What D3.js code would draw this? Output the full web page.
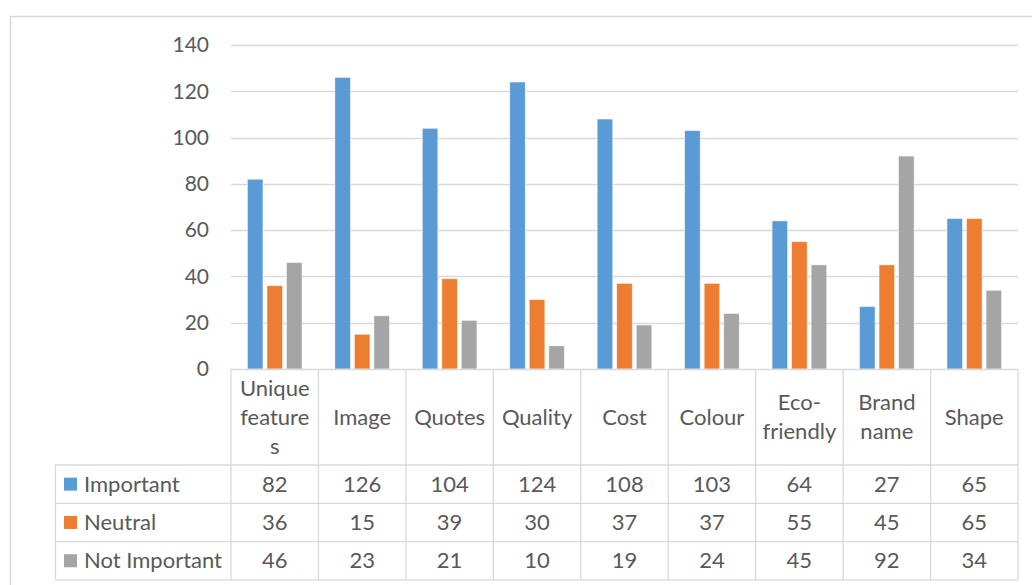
<!DOCTYPE html>
<html>
<head>
<meta charset="utf-8">
<script src="https://cdn.jsdelivr.net/npm/d3@7"></script>
<style>
  html, body { margin: 0; padding: 0; background: #fff; overflow: hidden; }
  text { font-family: "Lato", "Liberation Sans", sans-serif; fill: #595959; }
</style>
</head>
<body>
<div id="chart"></div>
<script>
// data
var categories = ["Unique features", "Image", "Quotes", "Quality", "Cost", "Colour", "Eco-friendly", "Brand name", "Shape"];
var categoryLines = [["Unique", "feature", "s"], ["Image"], ["Quotes"], ["Quality"], ["Cost"], ["Colour"], ["Eco-", "friendly"], ["Brand", "name"], ["Shape"]];
var seriesNames = ["Important", "Neutral", "Not Important"];
var important = [82, 126, 104, 124, 108, 103, 64, 27, 65];
var neutral = [36, 15, 39, 30, 37, 37, 55, 45, 65];
var notImportant = [46, 23, 21, 10, 19, 24, 45, 92, 34];
var yTicks = [0, 20, 40, 60, 80, 100, 120, 140];
var colors = ["#5b9bd5", "#ed7d31", "#a5a5a5"];

var series = [important, neutral, notImportant];

var W = 1032, H = 585;
var plotLeft = 231, plotRight = 1018, plotTop = 45, plotBottom = 369;
var headerBottom = 465, rowH = 38.3, tableLeft = 55.5;
var gridColor = "#d9d9d9";
var fontSize = "22px";

var svg = d3.select("#chart").append("svg")
    .attr("width", W)
    .attr("height", H);

// outer chart border
svg.append("rect")
    .attr("x", 10.5).attr("y", 16.5)
    .attr("width", 1100).attr("height", 700)
    .attr("fill", "none")
    .attr("stroke", gridColor)
    .attr("stroke-width", 1.5);

var x = d3.scaleBand()
    .domain(categories)
    .range([plotLeft, plotRight])
    .padding(0);

var xInner = d3.scaleBand()
    .domain(seriesNames)
    .range([0, x.bandwidth()])
    .paddingInner(0.205)
    .paddingOuter(0.84);

var y = d3.scaleLinear()
    .domain([0, 140])
    .range([plotBottom, plotTop]);

// gridlines
svg.append("g")
    .selectAll("line")
    .data(yTicks.slice(1))
    .enter().append("line")
    .attr("x1", plotLeft).attr("x2", plotRight)
    .attr("y1", function(d) { return Math.round(y(d)) + 0.5; })
    .attr("y2", function(d) { return Math.round(y(d)) + 0.5; })
    .attr("stroke", gridColor)
    .attr("stroke-width", 1.3);

// y axis labels
var yAxis = svg.append("g")
    .attr("transform", "translate(" + (plotLeft - 12) + ",0)")
    .call(d3.axisLeft(y).tickValues(yTicks).tickSize(0).tickPadding(10));
yAxis.select(".domain").remove();
yAxis.selectAll("text")
    .style("font-size", "21px")
    .style("font-family", "Lato, 'Liberation Sans', sans-serif")
    .attr("fill", "#595959");

// bars
series.forEach(function(vals, si) {
    svg.append("g")
        .selectAll("rect")
        .data(vals)
        .enter().append("rect")
        .attr("x", function(d, i) { return x(categories[i]) + xInner(seriesNames[si]); })
        .attr("y", function(d) { return y(d); })
        .attr("width", xInner.bandwidth())
        .attr("height", function(d) { return plotBottom - y(d); })
        .attr("fill", colors[si])
        .attr("stroke", "#ffffff")
        .attr("stroke-opacity", 0.6)
        .attr("stroke-width", 0.8);
});

// data table
var table = svg.append("g");
var tableBottom = headerBottom + rowH * 3;

// horizontal lines
table.append("line")
    .attr("x1", plotLeft).attr("x2", plotRight)
    .attr("y1", plotBottom + 0.5).attr("y2", plotBottom + 0.5)
    .attr("stroke", gridColor).attr("stroke-width", 1.3);
for (var r = 0; r <= 3; r++) {
    table.append("line")
        .attr("x1", tableLeft).attr("x2", plotRight)
        .attr("y1", headerBottom + r * rowH).attr("y2", headerBottom + r * rowH)
        .attr("stroke", gridColor).attr("stroke-width", 1.3);
}
// vertical lines
table.append("line")
    .attr("x1", tableLeft).attr("x2", tableLeft)
    .attr("y1", headerBottom).attr("y2", tableBottom)
    .attr("stroke", gridColor).attr("stroke-width", 1.3);
var colEdges = categories.map(function(c) { return x(c); }).concat([plotRight]);
table.selectAll(".vline")
    .data(colEdges)
    .enter().append("line")
    .attr("class", "vline")
    .attr("x1", function(d) { return d; }).attr("x2", function(d) { return d; })
    .attr("y1", plotBottom).attr("y2", tableBottom)
    .attr("stroke", gridColor).attr("stroke-width", 1.3);

// category headers
var lineH = 29;
categoryLines.forEach(function(lines, i) {
    var cx = x(categories[i]) + x.bandwidth() / 2;
    var cy = (plotBottom + headerBottom) / 2;
    var start = cy - (lines.length - 1) * lineH / 2;
    var t = table.append("text")
        .attr("text-anchor", "middle")
        .style("font-size", fontSize);
    lines.forEach(function(ln, k) {
        t.append("tspan")
            .attr("x", cx)
            .attr("y", start + k * lineH)
            .attr("dy", "0.35em")
            .text(ln);
    });
});

// table rows
series.forEach(function(vals, si) {
    var cy = headerBottom + rowH * si + rowH / 2;
    table.append("rect")
        .attr("x", 64).attr("y", cy - 6.5)
        .attr("width", 13).attr("height", 13)
        .attr("fill", colors[si]);
    table.append("text")
        .attr("x", 84).attr("y", cy)
        .attr("dy", "0.35em")
        .style("font-size", fontSize)
        .text(seriesNames[si]);
    table.selectAll(".v" + si)
        .data(vals)
        .enter().append("text")
        .attr("class", "v" + si)
        .attr("x", function(d, i) { return x(categories[i]) + x.bandwidth() / 2; })
        .attr("y", cy)
        .attr("dy", "0.35em")
        .attr("text-anchor", "middle")
        .style("font-size", fontSize)
        .text(function(d) { return d; });
});
</script>
</body>
</html>
